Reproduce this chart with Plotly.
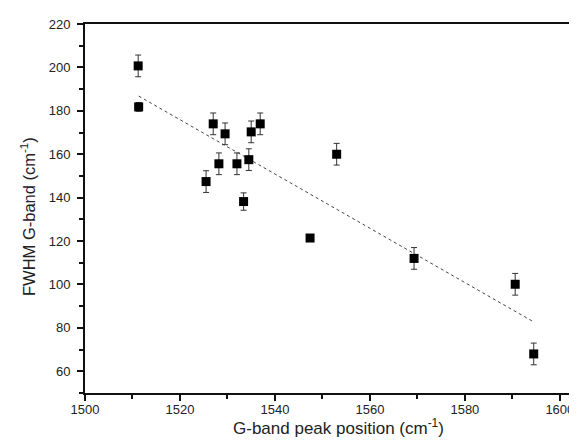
import plotly.graph_objects as go

# Data
peak_pos = [1511.2, 1511.3, 1525.5, 1527.0, 1528.2, 1529.5, 1532.0, 1533.4,
            1534.5, 1535.0, 1536.9, 1547.4, 1553.0, 1569.3, 1590.6, 1594.5]
fwhm = [200.7, 181.8, 147.4, 174.0, 155.6, 169.4, 155.6, 138.2,
        157.5, 170.3, 174.0, 121.4, 160.0, 112.0, 100.1, 68.0]
fwhm_err = [5, 2, 5, 5, 5, 5, 5, 4, 5, 5, 5, 1, 5, 5, 5, 5]

fit_x = [1511.3, 1594.7]
fit_y = [186.8, 82.5]

x_ticks = [1500, 1520, 1540, 1560, 1580, 1600]
y_ticks = [60, 80, 100, 120, 140, 160, 180, 200, 220]

x_title = "G-band peak position (cm<sup>-1</sup>)"
y_title = "FWHM G-band (cm<sup>-1</sup>)"

fig = go.Figure()
fig.add_trace(go.Scatter(
    x=fit_x, y=fit_y, mode="lines",
    line=dict(color="#444", width=1, dash="dot"),
    showlegend=False, hoverinfo="skip"))
fig.add_trace(go.Scatter(
    x=peak_pos, y=fwhm, mode="markers",
    marker=dict(symbol="square", size=9, color="black"),
    error_y=dict(type="data", array=fwhm_err, visible=True,
                 color="#333", thickness=1, width=3),
    showlegend=False))

font = "Liberation Sans, Arial, sans-serif"
fig.update_layout(
    width=577, height=444,
    margin=dict(l=77, r=0, t=16, b=59),
    paper_bgcolor="white", plot_bgcolor="white",
    font=dict(family=font, color="#222", size=13),
    xaxis=dict(
        range=[1500, 1605.3], tickvals=x_ticks,
        showgrid=False, zeroline=False,
        showline=True, linecolor="#111", linewidth=2, mirror=True,
        ticks="outside", ticklen=6, tickwidth=1.5, tickcolor="#111",
        ticklabelstandoff=-3,
        tickfont=dict(size=13, family=font, color="#222"),
        minor=dict(dtick=10, ticks="outside", ticklen=4, tickwidth=1.5, tickcolor="#111"),
    ),
    yaxis=dict(
        range=[50, 220], tickvals=y_ticks,
        showgrid=False, zeroline=False,
        showline=True, linecolor="#111", linewidth=2,
        ticks="outside", ticklen=6, tickwidth=1.5, tickcolor="#111",
        ticklabelstandoff=4,
        tickfont=dict(size=13, family=font, color="#222"),
        minor=dict(dtick=10, ticks="outside", ticklen=4, tickwidth=1.5, tickcolor="#111"),
    ),
    annotations=[
        dict(text=x_title, xref="paper", yref="paper", x=0.506, y=0,
             xanchor="center", yanchor="middle", yshift=-34, showarrow=False,
             font=dict(size=17, family=font, color="#222")),
        dict(text=y_title, xref="paper", yref="paper", x=0, y=0.477,
             xanchor="center", yanchor="middle", xshift=-57, showarrow=False,
             textangle=-90, font=dict(size=16.5, family=font, color="#222")),
    ],
)

fig.write_html("out.html")
